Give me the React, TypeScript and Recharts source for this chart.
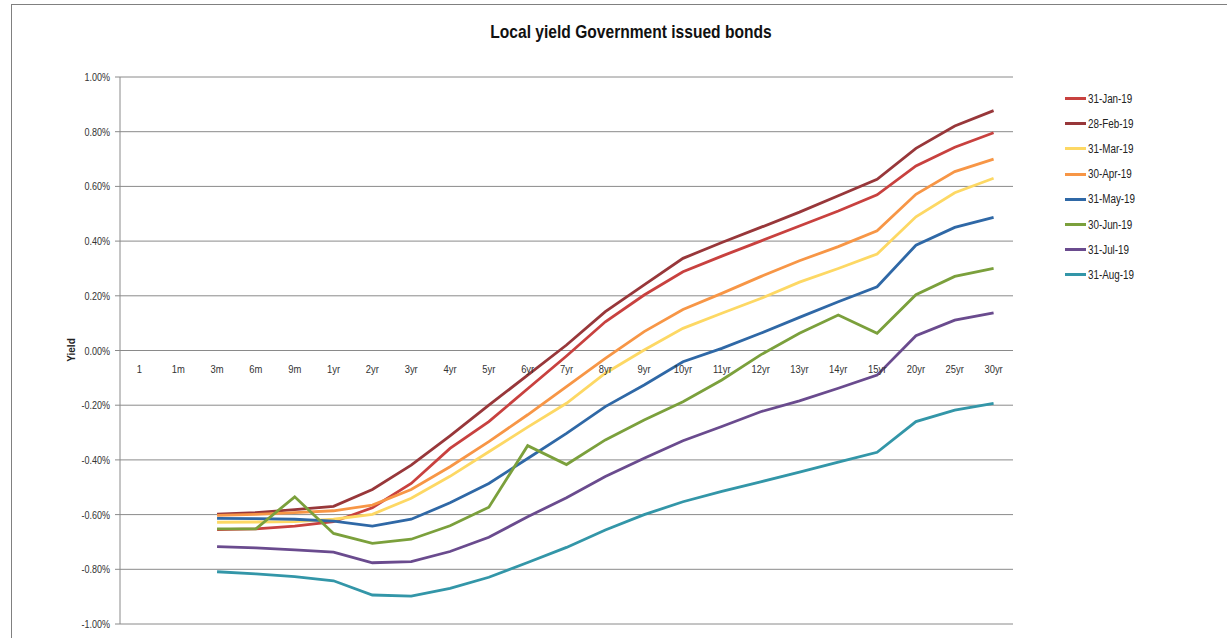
import { LineChart, Line, XAxis, YAxis, CartesianGrid } from "recharts";

// tenors along the curve (first two have no quotes)
const tenors = [
  "1", "1m", "3m", "6m", "9m", "1yr", "2yr", "3yr", "4yr", "5yr", "6yr", "7yr",
  "8yr", "9yr", "10yr", "11yr", "12yr", "13yr", "14yr", "15yr", "20yr", "25yr", "30yr"
];

// yields in %
const jan19 = [null, null, -0.655, -0.652, -0.642, -0.626, -0.575, -0.486, -0.358, -0.26, -0.14, -0.02, 0.105, 0.203, 0.288, 0.345, 0.4, 0.455, 0.51, 0.569, 0.675, 0.743, 0.796];
const feb19 = [null, null, -0.598, -0.593, -0.582, -0.57, -0.508, -0.419, -0.312, -0.2, -0.09, 0.02, 0.142, 0.24, 0.337, 0.395, 0.45, 0.506, 0.566, 0.626, 0.739, 0.821, 0.877];
const mar19 = [null, null, -0.628, -0.627, -0.626, -0.617, -0.599, -0.54, -0.46, -0.37, -0.28, -0.193, -0.083, 0.002, 0.081, 0.136, 0.19, 0.25, 0.3, 0.353, 0.489, 0.577, 0.63];
const apr19 = [null, null, -0.603, -0.599, -0.593, -0.586, -0.565, -0.508, -0.425, -0.333, -0.235, -0.132, -0.029, 0.069, 0.15, 0.209, 0.27, 0.328, 0.38, 0.438, 0.571, 0.654, 0.7];
const may19 = [null, null, -0.614, -0.615, -0.617, -0.624, -0.642, -0.617, -0.557, -0.486, -0.395, -0.303, -0.205, -0.126, -0.041, 0.008, 0.063, 0.121, 0.178, 0.233, 0.385, 0.45, 0.487];
const jun19 = [null, null, -0.652, -0.652, -0.535, -0.669, -0.705, -0.69, -0.641, -0.573, -0.348, -0.417, -0.327, -0.254, -0.187, -0.108, -0.016, 0.063, 0.13, 0.063, 0.204, 0.271, 0.3];
const jul19 = [null, null, -0.717, -0.722, -0.729, -0.737, -0.776, -0.772, -0.735, -0.683, -0.608, -0.538, -0.461, -0.394, -0.33, -0.278, -0.224, -0.184, -0.138, -0.09, 0.054, 0.111, 0.138];
const aug19 = [null, null, -0.809, -0.817, -0.827, -0.842, -0.894, -0.898, -0.87, -0.829, -0.775, -0.72, -0.656, -0.6, -0.553, -0.515, -0.48, -0.445, -0.408, -0.372, -0.26, -0.218, -0.193];

const yTicks = [-1, -0.8, -0.6, -0.4, -0.2, 0, 0.2, 0.4, 0.6, 0.8, 1];

const series = [
  { key: "jan19", name: "31-Jan-19", color: "#c8413f", values: jan19 },
  { key: "feb19", name: "28-Feb-19", color: "#98373a", values: feb19 },
  { key: "mar19", name: "31-Mar-19", color: "#fdd864", values: mar19 },
  { key: "apr19", name: "30-Apr-19", color: "#f79646", values: apr19 },
  { key: "may19", name: "31-May-19", color: "#2f68a6", values: may19 },
  { key: "jun19", name: "30-Jun-19", color: "#7ba03c", values: jun19 },
  { key: "jul19", name: "31-Jul-19", color: "#6a4b8e", values: jul19 },
  { key: "aug19", name: "31-Aug-19", color: "#3396a8", values: aug19 }
];

const data = tenors.map((tenor, i) => {
  const row: Record<string, string | number | null> = { tenor };
  series.forEach((s) => {
    row[s.key] = s.values[i];
  });
  return row;
});

const FONT = "'Liberation Sans', Arial, sans-serif";
const SQUEEZE = 0.82; // reference uses a narrow font
const W = 1227;
const H = 638;
const M = { top: 77, right: 214, bottom: 13, left: 0 };
const Y_AXIS_W = 120;
const Y_MIN = -1;
const Y_MAX = 1;
// points sit in the middle of each category band, like Excel
const HALF_BAND = (W - M.right - Y_AXIS_W) / tenors.length / 2;
// category labels sit just under the 0.00% line, where the axis crosses
const ZERO_Y = M.top + ((H - M.top - M.bottom - 1) * (Y_MAX - 0)) / (Y_MAX - Y_MIN);

function TenorTick(props: any) {
  const { x, payload } = props;
  return (
    <text
      transform={`translate(${x},${ZERO_Y + 22}) scale(${SQUEEZE},1)`}
      textAnchor="middle"
      fontSize={11.5}
      fill="#333"
      fontFamily={FONT}
    >
      {payload.value}
    </text>
  );
}

function YieldTick(props: any) {
  const { x, y, payload } = props;
  return (
    <text
      transform={`translate(${x},${y + 4}) scale(${SQUEEZE},1)`}
      textAnchor="end"
      fontSize={11}
      fill="#333"
      fontFamily={FONT}
    >
      {`${payload.value.toFixed(2)}%`}
    </text>
  );
}

export default function App() {
  return (
    <div style={{ position: "relative", width: W, height: H, background: "#fff", overflow: "hidden" }}>
      <style>{`body{margin:0}`}</style>
      <div
        style={{
          position: "absolute",
          left: 11,
          top: 4,
          right: 0,
          bottom: 0,
          borderTop: "1px solid #808080",
          borderLeft: "1px solid #808080"
        }}
      />
      <div
        style={{
          position: "absolute",
          left: 631,
          top: 21,
          transform: `translateX(-50%) scaleX(${SQUEEZE})`,
          whiteSpace: "nowrap",
          fontFamily: FONT,
          fontWeight: "bold",
          fontSize: 19,
          color: "#111"
        }}
      >
        Local yield Government issued bonds
      </div>
      <div
        style={{
          position: "absolute",
          left: 71,
          top: 350,
          transform: "translate(-50%, -50%) rotate(-90deg)",
          fontFamily: FONT,
          fontWeight: "bold",
          fontSize: 10,
          color: "#222"
        }}
      >
        Yield
      </div>
      <div style={{ position: "absolute", left: 0, top: 0 }}>
        <LineChart width={W} height={H} data={data} margin={M}>
          <CartesianGrid vertical={false} stroke="#8a8a8a" strokeWidth={1} />
          <XAxis
            dataKey="tenor"
            height={1}
            axisLine={false}
            tickLine={false}
            interval={0}
            padding={{ left: HALF_BAND, right: HALF_BAND }}
            tick={<TenorTick />}
          />
          <YAxis
            width={Y_AXIS_W}
            domain={[Y_MIN, Y_MAX]}
            ticks={yTicks}
            interval={0}
            axisLine={{ stroke: "#8a8a8a" }}
            tickLine={{ stroke: "#8a8a8a" }}
            tickSize={5}
            tickMargin={5}
            tick={<YieldTick />}
          />
          {series.map((s) => (
            <Line
              key={s.key}
              type="linear"
              dataKey={s.key}
              name={s.name}
              stroke={s.color}
              strokeWidth={2.8}
              dot={false}
              activeDot={false}
              isAnimationActive={false}
            />
          ))}
        </LineChart>
      </div>
      <div style={{ position: "absolute", left: 1065, top: 86, fontFamily: FONT, fontSize: 12, color: "#222" }}>
        {series.map((s) => (
          <div key={s.key} style={{ display: "flex", alignItems: "center", height: 25.2 }}>
            <span style={{ width: 21, height: 3, background: s.color, marginRight: 2 }} />
            <span style={{ display: "inline-block", transform: `scaleX(${SQUEEZE})`, transformOrigin: "left center" }}>
              {s.name}
            </span>
          </div>
        ))}
      </div>
    </div>
  );
}
